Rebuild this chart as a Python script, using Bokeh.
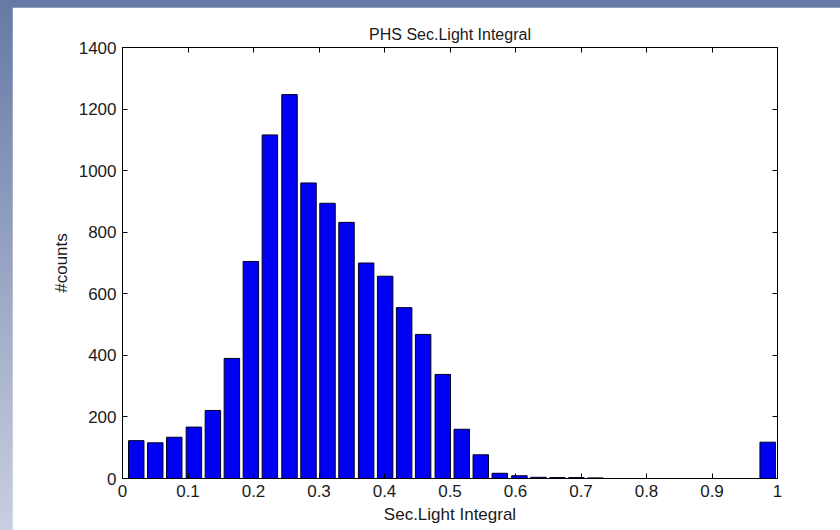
from bokeh.plotting import figure
from bokeh.models import LinearAxis, FixedTicker, Range1d, ColumnDataSource, CustomJSTickFormatter
from bokeh.layouts import column
from bokeh.embed import file_html
from bokeh.resources import INLINE

# ---- data ----
bin_centers = [0.021, 0.050, 0.079, 0.109, 0.138, 0.167, 0.196, 0.225, 0.255, 0.284,
               0.313, 0.342, 0.372, 0.401, 0.430, 0.459, 0.489, 0.518, 0.547, 0.576,
               0.606, 0.635, 0.664, 0.693, 0.722, 0.752, 0.781, 0.810, 0.839, 0.869,
               0.898, 0.927, 0.956, 0.985]
counts = [123, 116, 134, 167, 221, 390, 705, 1116, 1247, 960,
          894, 832, 700, 657, 555, 468, 338, 160, 77, 17,
          9, 4, 3, 3, 2, 0, 0, 0, 0, 0,
          0, 0, 0, 118]
x_ticks = [0, 0.1, 0.2, 0.3, 0.4, 0.5, 0.6, 0.7, 0.8, 0.9, 1.0]
x_tick_labels = ["0", "0.1", "0.2", "0.3", "0.4", "0.5", "0.6", "0.7", "0.8", "0.9", "1"]
y_ticks = [0, 200, 400, 600, 800, 1000, 1200, 1400]
y_tick_labels = ["0", "200", "400", "600", "800", "1000", "1200", "1400"]
title_text = "PHS Sec.Light Integral"
x_label = "Sec.Light Integral"
y_label = "#counts"

FONT = "Liberation Sans"
TXT = "#1a1a1a"

src = ColumnDataSource(dict(x=bin_centers, top=counts))

p = figure(width=828, height=523, x_range=Range1d(0, 1), y_range=Range1d(0, 1400),
           output_backend="svg", toolbar_location=None, title=title_text,
           min_border_left=110, min_border_right=63, min_border_top=40, min_border_bottom=52,
           background_fill_color="white", border_fill_color="white")

p.vbar(x="x", top="top", bottom=0, width=0.0236, source=src,
       fill_color="#0000f2", line_color="#000022", line_width=1)

p.title.text_font = FONT
p.title.text_font_size = "16px"
p.title.text_font_style = "normal"
p.title.text_color = TXT
p.title.align = "center"
p.title.padding = (0, 0, 6, 0)

p.grid.visible = False
p.outline_line_color = "black"

xlabels = {v: s for v, s in zip(x_ticks, x_tick_labels)}
ylabels = {v: s for v, s in zip(y_ticks, y_tick_labels)}

for ax in p.xaxis:
    ax.ticker = FixedTicker(ticks=x_ticks)
    ax.major_label_overrides = xlabels
    ax.axis_label = x_label
for ax in p.yaxis:
    ax.ticker = FixedTicker(ticks=y_ticks)
    ax.major_label_overrides = ylabels
    ax.axis_label = y_label

for ax in list(p.xaxis) + list(p.yaxis):
    ax.axis_line_color = "black"
    ax.major_tick_line_color = "black"
    ax.major_tick_in = 5
    ax.major_tick_out = 0
    ax.minor_tick_line_color = None
    ax.major_label_text_font = FONT
    ax.major_label_text_font_size = "17px"
    ax.major_label_text_color = TXT
    ax.major_label_standoff = 6
    ax.axis_label_text_font = FONT
    ax.axis_label_text_font_size = "17px"
    ax.axis_label_text_font_style = "normal"
    ax.axis_label_text_color = TXT
    ax.axis_label_standoff = 5

blank = CustomJSTickFormatter(code="return ''")
top_ax = LinearAxis(ticker=FixedTicker(ticks=x_ticks), formatter=blank,
                    major_tick_in=5, major_tick_out=0, minor_tick_line_color=None,
                    axis_line_color="black", major_label_text_font_size="1px",
                    major_label_standoff=0)
right_ax = LinearAxis(ticker=FixedTicker(ticks=y_ticks), formatter=blank,
                      major_tick_in=5, major_tick_out=0, minor_tick_line_color=None,
                      axis_line_color="black", major_label_text_font_size="1px",
                      major_label_standoff=0)
p.add_layout(top_ax, "above")
p.add_layout(right_ax, "right")

layout = column(p, styles={"padding": "7px 0px 0px 12px",
                           "background": "linear-gradient(to bottom, #6679a6, #c9cfdf)"})

open("out.html", "w").write(file_html(layout, INLINE))
